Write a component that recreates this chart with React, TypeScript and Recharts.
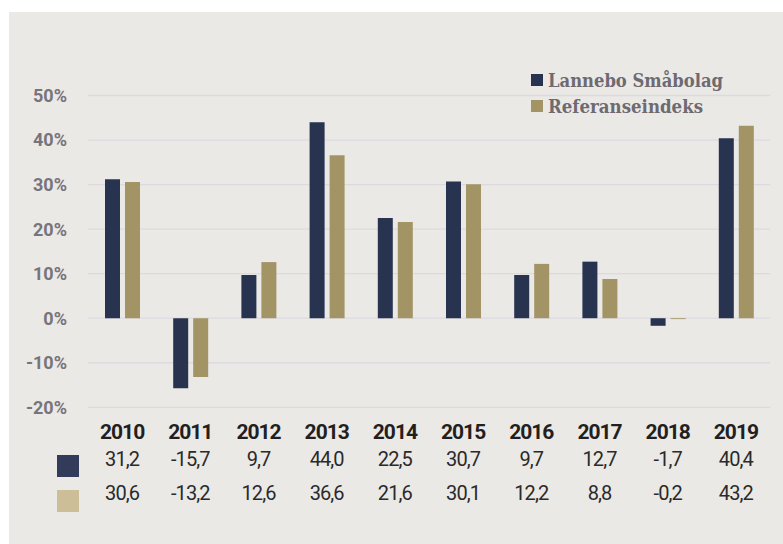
import React from 'react';
import { BarChart, Bar, XAxis, YAxis, CartesianGrid } from 'recharts';

const years = ['2010', '2011', '2012', '2013', '2014', '2015', '2016', '2017', '2018', '2019'];
const lannebo = [31.2, -15.7, 9.7, 44.0, 22.5, 30.7, 9.7, 12.7, -1.7, 40.4];
const referens = [30.6, -13.2, 12.6, 36.6, 21.6, 30.1, 12.2, 8.8, -0.2, 43.2];
const yTicks = [-20, -10, 0, 10, 20, 30, 40, 50];
const seriesNames = ['Lannebo Småbolag', 'Referanseindeks'];

const chartData = years.map((year, i) => ({ year, lannebo: lannebo[i], referens: referens[i] }));

const NAVY = '#283350';
const GOLD = '#a39466';
const fmt = (v: number) => v.toFixed(1).replace('.', ',');

const TableTick = (props: any) => {
  const { x, y, payload } = props;
  const i = years.indexOf(payload.value);
  return (
    <g fontFamily="Roboto, sans-serif">
      <text x={x} y={y + 32} textAnchor="middle" fontSize={21} fontWeight={700} letterSpacing={-1} fill="#231f20">
        {payload.value}
      </text>
      <text x={x} y={y + 59} textAnchor="middle" fontSize={20} letterSpacing={-0.9} fill="#2a2a2a">
        {fmt(lannebo[i])}
      </text>
      <text x={x} y={y + 93} textAnchor="middle" fontSize={20} letterSpacing={-0.9} fill="#2a2a2a">
        {fmt(referens[i])}
      </text>
    </g>
  );
};

const App: React.FC = () => (
  <div style={{ position: 'absolute', left: 0, top: 0, width: 783, height: 544, background: '#fff' }}>
    <div style={{ position: 'absolute', left: 9, top: 12, width: 774, height: 532, background: '#ebe9e6' }} />
    <div style={{ position: 'absolute', left: 0, top: 0 }}>
      <BarChart
        width={783}
        height={544}
        data={chartData}
        margin={{ top: 95.5, right: 13, bottom: 36.7, left: 28 }}
        barSize={15}
        barGap={5}
      >
        <CartesianGrid vertical={false} stroke="#dcdae0" strokeWidth={1.3} />
        <XAxis
          dataKey="year"
          height={100}
          axisLine={false}
          tickLine={false}
          tickSize={0}
          tickMargin={0}
          interval={0}
          tick={<TableTick />}
        />
        <YAxis
          width={60}
          domain={[-20, 50]}
          ticks={yTicks}
          axisLine={false}
          tickLine={false}
          tickSize={0}
          tickMargin={21}
          tickFormatter={(v: number) => `${v}%`}
          tick={{ fill: '#78747b', fontSize: 18, fontWeight: 700, fontFamily: 'Roboto, sans-serif' }}
        />
        <Bar dataKey="lannebo" fill={NAVY} isAnimationActive={false} />
        <Bar dataKey="referens" fill={GOLD} isAnimationActive={false} />
      </BarChart>
    </div>
    <svg width={783} height={544} style={{ position: 'absolute', left: 0, top: 0, pointerEvents: 'none' }}>
      <rect x={531} y={74} width={12} height={12} fill={NAVY} />
      <rect x={531} y={100} width={12} height={12} fill={GOLD} />
      <g fontFamily="'DejaVu Serif Condensed', 'DejaVu Serif', serif" fontWeight={700} fontSize={19} fill="#6e6a72">
        <text x={548} y={87} textLength={175} lengthAdjust="spacingAndGlyphs">{seriesNames[0]}</text>
        <text x={548} y={113} textLength={155} lengthAdjust="spacingAndGlyphs">{seriesNames[1]}</text>
      </g>
      <rect x={57} y={455} width={22} height={22} fill="#323c5a" />
      <rect x={57} y={490} width={22} height={22} fill="#ccbf98" />
    </svg>
  </div>
);

export default App;
